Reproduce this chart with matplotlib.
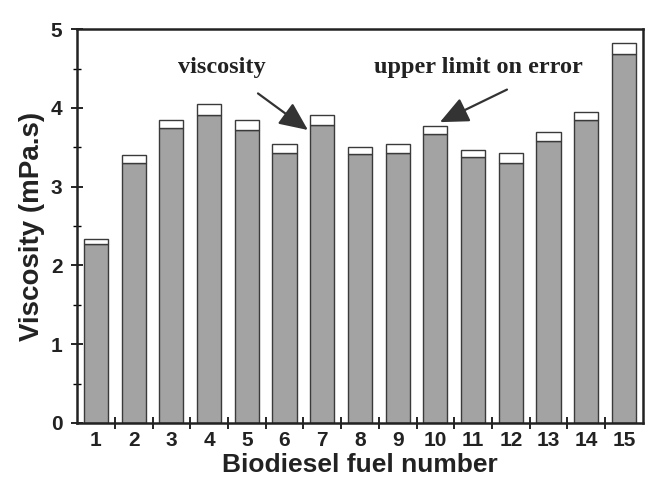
import matplotlib
matplotlib.use("Agg")
import matplotlib.pyplot as plt
import numpy as np

fuel_numbers = list(range(1, 16))
viscosity = [2.27, 3.30, 3.74, 3.91, 3.72, 3.43, 3.79, 3.41, 3.43, 3.67, 3.38, 3.30, 3.58, 3.85, 4.68]
upper_limit = [2.33, 3.40, 3.85, 4.05, 3.85, 3.54, 3.91, 3.51, 3.54, 3.77, 3.47, 3.43, 3.70, 3.95, 4.82]
y_ticks = [0, 1, 2, 3, 4, 5]

err = [u - v for u, v in zip(upper_limit, viscosity)]

fig = plt.figure(figsize=(6.48, 4.79), dpi=100)
ax = fig.add_axes([0.119, 0.117, 0.873, 0.822])

edge = "#3a3a3a"
ax.bar(fuel_numbers, viscosity, width=0.64, color="#a3a3a3", edgecolor=edge, linewidth=1.0, zorder=2)
ax.bar(fuel_numbers, err, bottom=viscosity, width=0.64, color="white", edgecolor=edge, linewidth=1.0, zorder=2)

ax.set_xlim(0.5, 15.5)
ax.set_ylim(0, 5)

ax.set_xticks(fuel_numbers)
ax.set_xticklabels([str(n) for n in fuel_numbers])
ax.set_xticks(np.arange(1.5, 15.5, 1.0), minor=True)
ax.tick_params(axis="x", which="major", length=0, pad=6)
ax.tick_params(axis="x", which="minor", direction="inout", length=8, width=1.2)

ax.set_yticks(y_ticks)
ax.set_yticks(np.arange(0.5, 5.0, 1.0), minor=True)
ax.tick_params(axis="y", which="major", direction="inout", length=9, width=1.2, pad=6)
ax.tick_params(axis="y", which="minor", direction="inout", length=6, width=1.0)

for lab in ax.get_xticklabels() + ax.get_yticklabels():
    lab.set_fontsize(15)
    lab.set_fontweight("bold")
    lab.set_family("Liberation Sans")
    lab.set_color("#222222")

for s in ax.spines.values():
    s.set_linewidth(1.8)
    s.set_color("#222222")

ax.set_xlabel("Biodiesel fuel number", fontsize=19, fontweight="bold", family="Liberation Sans", labelpad=2, color="#222222")
ax.set_ylabel("Viscosity (mPa.s)", fontsize=20, fontweight="bold", family="Liberation Sans", labelpad=4, color="#222222")

ax.annotate("viscosity", xy=(6.62, 3.72), xytext=(4.34, 4.52),
            ha="center", va="center", fontsize=17.5, fontweight="bold", family="Liberation Serif",
            color="#222222",
            arrowprops=dict(arrowstyle="-|>,head_length=1.0,head_width=0.45", color="#333333", lw=1.6,
                            shrinkA=16, shrinkB=0))
ax.annotate("upper limit on error", xy=(10.12, 3.82), xytext=(11.13, 4.51),
            ha="center", va="center", fontsize=17.5, fontweight="bold", family="Liberation Serif",
            color="#222222",
            arrowprops=dict(arrowstyle="-|>,head_length=1.0,head_width=0.45", color="#333333", lw=1.6,
                            shrinkA=14, shrinkB=0, relpos=(0.75, 0.0)))

fig.savefig("out.png", dpi=100)
